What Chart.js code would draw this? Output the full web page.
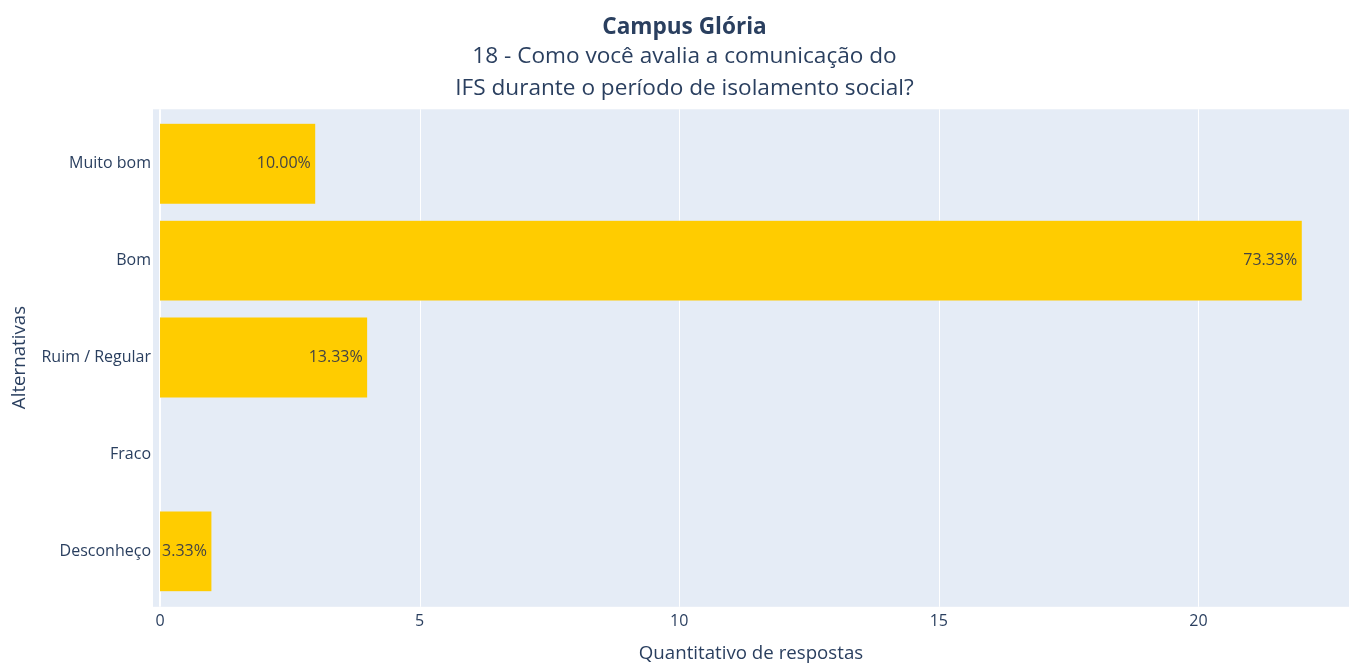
<!DOCTYPE html>
<html lang="pt-BR">
<head>
<meta charset="UTF-8" />
<title>Campus Glória - Questão 18</title>
<script src="https://cdn.jsdelivr.net/npm/chart.js"></script>
<style>
  body { margin: 0; background: #fff; }
</style>
</head>
<body>
<canvas id="grafico" width="1349" height="663"></canvas>
<script>
const alternativas = ['Muito bom', 'Bom', 'Ruim / Regular', 'Fraco', 'Desconheço'];
const respostas = [3, 22, 4, 0, 1];
const ticksX = [0, 5, 10, 15, 20];

const total = respostas.reduce((a, b) => a + b, 0);
const fonte = '"Open Sans", verdana, arial, sans-serif';
const corTexto = '#2a3f5f';

// fundo do plot e grade no estilo plotly (um pouco maior que a chartArea)
const fundoPlot = {
  id: 'fundoPlot',
  beforeDraw(chart) {
    const {ctx, chartArea: a, scales: {x}} = chart;
    const top = a.top - 6, bottom = a.bottom + 7;
    ctx.save();
    ctx.fillStyle = '#E5ECF6';
    ctx.fillRect(a.left, top, a.right - a.left, bottom - top);
    ctx.strokeStyle = '#fff';
    ticksX.forEach(v => {
      const px = Math.round(x.getPixelForValue(v)) + (v === 0 ? 0 : 0.5);
      ctx.lineWidth = v === 0 ? 2 : 1;
      ctx.beginPath();
      ctx.moveTo(px, top);
      ctx.lineTo(px, bottom);
      ctx.stroke();
    });
    ctx.restore();
  }
};

// percentuais dentro da barra, alinhados no fim
const rotulos = {
  id: 'rotulos',
  afterDatasetsDraw(chart) {
    const {ctx} = chart;
    const meta = chart.getDatasetMeta(0);
    ctx.save();
    ctx.font = '16px ' + fonte;
    ctx.fillStyle = '#444';
    ctx.textAlign = 'right';
    ctx.textBaseline = 'middle';
    meta.data.forEach((bar, i) => {
      if (!respostas[i]) return;
      const txt = (respostas[i] / total * 100).toFixed(2) + '%';
      ctx.fillText(txt, bar.x - 5, bar.y);
    });
    ctx.restore();
  }
};

const ctx = document.getElementById('grafico').getContext('2d');
new Chart(ctx, {
  type: 'bar',
  data: {
    labels: alternativas,
    datasets: [{
      data: respostas,
      backgroundColor: '#FFCC00',
      borderColor: '#E5ECF6',
      borderWidth: 0.5,
      barPercentage: 0.835,
      categoryPercentage: 1
    }]
  },
  options: {
    indexAxis: 'y',
    responsive: false,
    animation: false,
    // padding à esquerda só para deslocar o título como no original
    layout: { padding: { left: 20, right: 0, top: 0, bottom: 0 } },
    plugins: {
      legend: { display: false },
      tooltip: { enabled: false },
      title: {
        display: true,
        text: 'Campus Glória',
        color: corTexto,
        font: { family: fonte, size: 22.6, weight: 'bold', lineHeight: 1.2 },
        padding: { top: 14, bottom: 0.3 }
      },
      subtitle: {
        display: true,
        text: ['18 - Como você avalia a comunicação do', 'IFS durante o período de isolamento social?'],
        color: corTexto,
        font: { family: fonte, size: 22.6, lineHeight: 1.38 },
        padding: { top: 0, bottom: 11.5 }
      }
    },
    scales: {
      x: {
        min: -0.135,
        max: 22.9,
        grid: { display: false, drawTicks: false },
        border: { display: false },
        afterBuildTicks: s => { s.ticks = ticksX.map(v => ({ value: v })); },
        afterFit: s => { s.height = 63.2; },
        ticks: { color: corTexto, font: { family: fonte, size: 16 }, padding: 12, maxRotation: 0, autoSkip: false },
        title: {
          display: true,
          text: 'Quantitativo de respostas',
          color: corTexto,
          font: { family: fonte, size: 18.7 },
          padding: { top: 0, bottom: -2 }
        }
      },
      y: {
        grid: { display: false, drawTicks: false },
        border: { display: false },
        afterFit: s => { s.width = 133; },
        ticks: { color: corTexto, font: { family: fonte, size: 16 }, padding: 2 },
        title: {
          display: true,
          text: 'Alternativas',
          color: corTexto,
          font: { family: fonte, size: 18.7 },
          padding: { top: -11.2, bottom: 0 }
        }
      }
    }
  },
  plugins: [fundoPlot, rotulos]
});
</script>
</body>
</html>
